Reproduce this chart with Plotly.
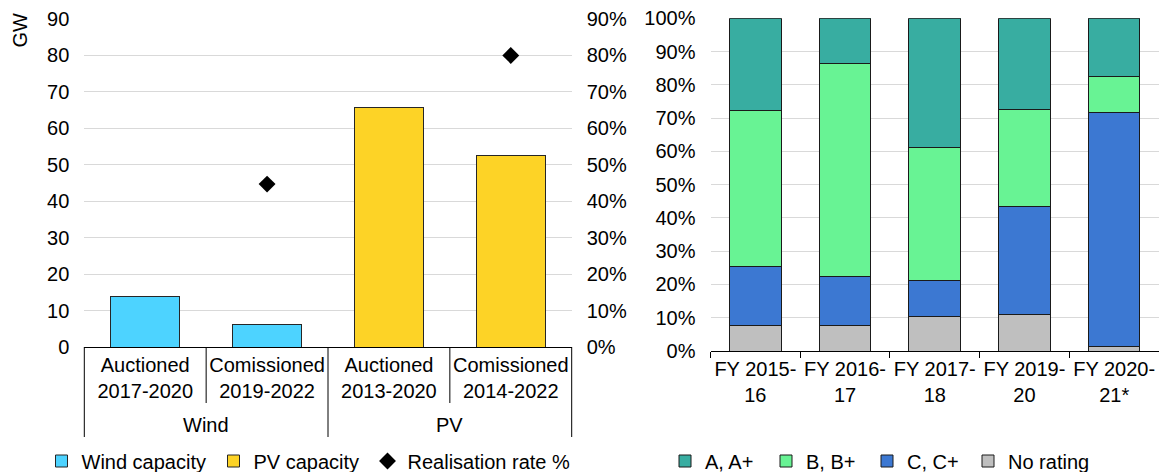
import plotly.graph_objects as go

# left chart: auction vs commissioned capacity
tech_groups = ["Wind", "PV"]
period_labels = ["Auctioned<br>2017-2020", "Comissioned<br>2019-2022",
                 "Auctioned<br>2013-2020", "Comissioned<br>2014-2022"]
wind_gw = [13.8, 6.2]
pv_gw = [65.7, 52.6]
realisation_rate = [0.447, 0.80]

# right chart: rating shares by fiscal year
fiscal_years = ["FY 2015-<br>16", "FY 2016-<br>17", "FY 2017-<br>18", "FY 2019-<br>20", "FY 2020-<br>21*"]
no_rating = [7.8, 7.8, 10.5, 10.9, 1.4]
rating_c = [17.7, 14.7, 10.7, 32.5, 70.2]
rating_b = [46.9, 63.8, 40.0, 29.2, 10.8]
rating_a = [27.6, 13.7, 38.8, 27.4, 17.6]

FONT = "Liberation Sans"
GRID = "#D9D9D9"
W, H = 1159.0, 472.0
FS = 20

fig = go.Figure()

fig.add_trace(go.Bar(x=period_labels[:2], y=wind_gw, name="Wind capacity",
                     marker=dict(color="#4DD3FF", line=dict(color="#262626", width=1)),
                     width=0.57, xaxis="x", yaxis="y", legend="legend", legendwidth=127))
fig.add_trace(go.Bar(x=period_labels[2:], y=pv_gw, name="PV capacity",
                     marker=dict(color="#FDD326", line=dict(color="#262626", width=1)),
                     width=0.57, xaxis="x", yaxis="y", legend="legend", legendwidth=109))
fig.add_trace(go.Scatter(x=[period_labels[1], period_labels[3]],
                         y=realisation_rate, name="Realisation rate %", mode="markers",
                         marker=dict(symbol="diamond", size=13, color="black"),
                         xaxis="x", yaxis="y2", legend="legend"))

# stacked from the bottom up
for name, vals, col, lw in [("No rating", no_rating, "#BFBFBF", None),
                            ("C, C+", rating_c, "#3C78D2", 56),
                            ("B, B+", rating_b, "#68F394", 56),
                            ("A, A+", rating_a, "#38ADA1", 56)]:
    fig.add_trace(go.Bar(x=fiscal_years, y=[v / 100 for v in vals], name=name,
                         marker=dict(color=col, line=dict(color="#1a1a1a", width=1)),
                         width=0.575, xaxis="x3", yaxis="y3", legend="legend2",
                         legendwidth=lw))

y_left_bottom = (H - 347) / H

# group dividers and category separators under the left axis
shapes = []
for xd in [0, 0.5, 1]:
    shapes.append(dict(type="line", xref="x domain", yref="paper", x0=xd, x1=xd,
                       y0=(H - 437) / H, y1=y_left_bottom, line=dict(color="black", width=1)))
for xd in [0.25, 0.75]:
    shapes.append(dict(type="line", xref="x domain", yref="paper", x0=xd, x1=xd,
                       y0=(H - 403) / H, y1=y_left_bottom, line=dict(color="black", width=1)))

annotations = [dict(text="GW", textangle=-90, xref="paper", yref="paper",
                    x=19.5 / W, y=(H - 30) / H, showarrow=False,
                    xanchor="center", yanchor="middle", font=dict(size=FS))]
for i, g in enumerate(tech_groups):
    annotations.append(dict(text=g, xref="x domain", yref="paper", x=0.25 + 0.5 * i,
                            y=(H - 425) / H, showarrow=False, xanchor="center",
                            yanchor="middle", font=dict(size=FS)))

fig.update_layout(
    width=1159, height=472,
    margin=dict(l=0, r=0, t=0, b=0, autoexpand=False),
    paper_bgcolor="white", plot_bgcolor="white",
    font=dict(family=FONT, size=FS, color="black"),
    barmode="stack",
    xaxis=dict(domain=[84.3 / W, 571.7 / W], type="category", anchor="y", automargin=False,
               showline=True, linecolor="black", linewidth=1, ticks=""),
    yaxis=dict(domain=[y_left_bottom, (H - 19) / H], range=[0, 90], dtick=10, anchor="x",
               showgrid=True, gridcolor=GRID, gridwidth=1, zeroline=False, automargin=False,
               ticklabelstandoff=14),
    yaxis2=dict(overlaying="y", side="right", anchor="x", range=[0, 0.9], dtick=0.1,
                tickformat=".0%", showgrid=False, zeroline=False, automargin=False,
                ticklabelstandoff=14),
    xaxis3=dict(domain=[710.5 / W, 1.0], anchor="y3", automargin=False, tickangle=0,
                showline=True, linecolor="black", linewidth=1,
                ticks="outside", tickson="boundaries", ticklen=6, tickcolor="black"),
    yaxis3=dict(domain=[(H - 351) / H, (H - 18.3) / H], range=[0, 1], dtick=0.1, anchor="x3",
                tickformat=".0%", showgrid=True, gridcolor=GRID, gridwidth=1,
                zeroline=False, automargin=False, ticklabelstandoff=14),
    legend=dict(orientation="h", x=41.5 / W, y=(H - 461) / H, xanchor="left", yanchor="middle",
                traceorder="normal"),
    legend2=dict(orientation="h", x=665 / W, y=(H - 461) / H, xanchor="left", yanchor="middle",
                 traceorder="reversed"),
    shapes=shapes,
    annotations=annotations,
)

# drop the default page margin so the figure sits at the window origin
fig.write_html("out.html", config={"displayModeBar": False},
               post_script="document.body.style.margin='0';")
